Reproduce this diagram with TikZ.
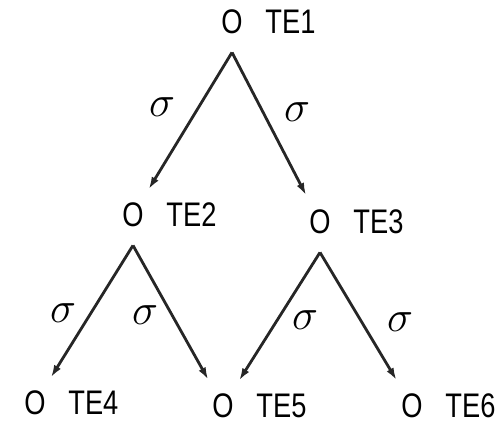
\documentclass[tikz,border=0pt]{standalone}
\usepackage{fontspec}
\setmainfont{Liberation Sans}[FakeStretch=0.8]
\usetikzlibrary{arrows.meta,positioning}
\tikzset{
  state/.style={circle,minimum size=0.56cm,inner sep=0pt,font=\fontsize{19.4}{22}\selectfont},
  tename/.style={inner sep=0pt,font=\fontsize{19.4}{22}\selectfont},
  sig/.style={inner sep=0pt,font=\Huge},
  arrow/.style={-{Latex[length=7pt,width=4.5pt]},line width=1.6pt,color=black!85,shorten >=7.9pt}
}

\begin{document}
\begin{tikzpicture}[x=0.02cm,y=-0.02cm]
  \useasboundingbox (0,0) rectangle (496,428);
  % states
  \node[state] (te1) at (232,22) {O};
  \node[state] (te2) at (133,215) {O};
  \node[state] (te3) at (320,222) {O};
  \node[state] (te4) at (35,403) {O};
  \node[state] (te5) at (223,406) {O};
  \node[state] (te6) at (412,406) {O};
  \node[tename,right=9.5pt of te1] (te1t) {TE1};
  \node[tename,right=9.5pt of te2] (te2t) {TE2};
  \node[tename,right=9.5pt of te3] (te3t) {TE3};
  \node[tename,right=9.5pt of te4] (te4t) {TE4};
  \node[tename,right=9.5pt of te5] (te5t) {TE5};
  \node[tename,right=9.5pt of te6] (te6t) {TE6};
  % fork points under the states
  \coordinate (te1a) at ([yshift=-8pt]te1.south);
  \coordinate (te2a) at ([yshift=-8pt]te2.south);
  \coordinate (te3a) at ([yshift=-8pt]te3.south);
  % transitions
  \draw[arrow] (te1a) -- (te2);
  \draw[arrow] (te1a) -- (te3);
  \draw[arrow] (te2a) -- (te4);
  \draw[arrow] (te2a) -- (te5);
  \draw[arrow] (te3a) -- (te5);
  \draw[arrow] (te3a) -- (te6);
  \node[sig] (s12) at (162,107) {$\sigma$};
  \node[sig] (s13) at (297,112) {$\sigma$};
  \node[sig] (s24) at (63,313) {$\sigma$};
  \node[sig] (s25) at (145,315) {$\sigma$};
  \node[sig] (s35) at (305,320) {$\sigma$};
  \node[sig] (s36) at (400,322) {$\sigma$};
\end{tikzpicture}
\end{document}
